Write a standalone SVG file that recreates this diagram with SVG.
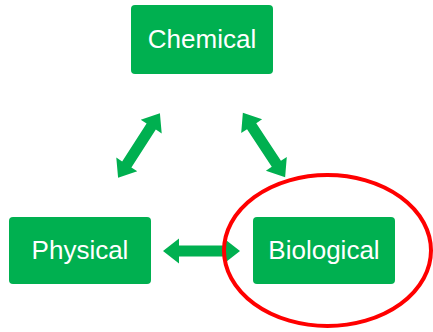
<svg xmlns="http://www.w3.org/2000/svg" xmlns:xlink="http://www.w3.org/1999/xlink" width="433" height="332" viewBox="0 0 433 332">
<style>
.box{fill:#00B050;}
.lbl{fill:#fff;font-family:"Liberation Sans",Arial,sans-serif;font-size:26px;text-anchor:middle;}
.arr{fill:#00B050;}
</style>
<defs>
<polygon id="dbl" points="-38.5,0 -22.5,-12.5 -22.5,-5.5 22.5,-5.5 22.5,-12.5 38.5,0 22.5,12.5 22.5,5.5 -22.5,5.5 -22.5,12.5"/>
</defs>
<rect width="433" height="332" fill="#fff"/>
<g id="connectors" class="arr">
<use xlink:href="#dbl" href="#dbl" transform="translate(139,145.5) rotate(122.9)"/>
<use xlink:href="#dbl" href="#dbl" transform="translate(264,145) rotate(56.7)"/>
<use xlink:href="#dbl" href="#dbl" transform="translate(201.5,251)"/>
</g>
<g id="chemical">
<rect class="box" x="131" y="5" width="142" height="69" rx="4"/>
<text class="lbl" x="202" y="48">Chemical</text>
</g>
<g id="physical">
<rect class="box" x="9" y="217" width="142" height="67" rx="4"/>
<text class="lbl" x="80" y="259">Physical</text>
</g>
<g id="biological">
<rect class="box" x="253" y="217" width="142" height="67" rx="4"/>
<text class="lbl" x="324" y="259">Biological</text>
</g>
<g id="highlight">
<ellipse cx="327.5" cy="250.5" rx="103.5" ry="75.5" fill="none" stroke="#f00" stroke-width="4"/>
</g>
</svg>
